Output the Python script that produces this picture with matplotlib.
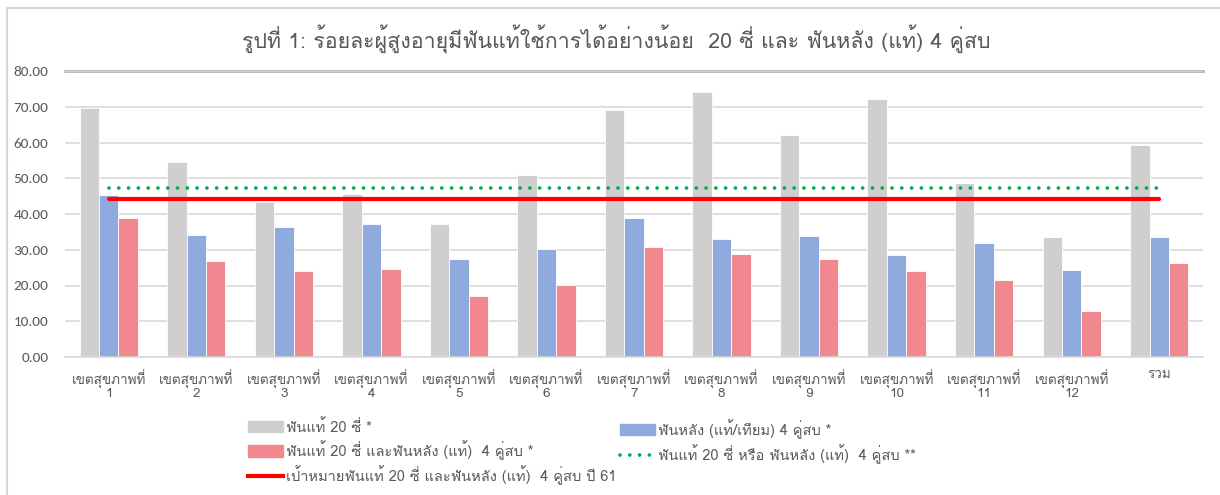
import numpy as np
import matplotlib
matplotlib.use("Agg")
import matplotlib.pyplot as plt
from matplotlib import font_manager
from matplotlib.lines import Line2D
from matplotlib.patches import Patch

# pick a Thai-capable family that is installed (Loma is close to Tahoma)
installed = set(f.name for f in font_manager.fontManager.ttflist)
thai = next((n for n in ['Loma', 'Noto Sans Thai Looped', 'Noto Sans Thai', 'Sarabun']
             if n in installed), 'DejaVu Sans')
latin = 'Carlito' if 'Carlito' in installed else 'Liberation Sans'
plt.rcParams['font.family'] = [thai, 'DejaVu Sans']

regions = ['เขตสุขภาพที่\n1', 'เขตสุขภาพที่\n2', 'เขตสุขภาพที่\n3', 'เขตสุขภาพที่\n4',
           'เขตสุขภาพที่\n5', 'เขตสุขภาพที่\n6', 'เขตสุขภาพที่\n7', 'เขตสุขภาพที่\n8',
           'เขตสุขภาพที่\n9', 'เขตสุขภาพที่\n10', 'เขตสุขภาพที่\n11', 'เขตสุขภาพที่\n12', 'รวม']
teeth20 = [69.7, 54.6, 43.4, 45.6, 37.1, 51.0, 69.2, 74.2, 62.2, 72.2, 48.8, 33.6, 59.3]
back4 = [45.3, 34.1, 36.4, 37.3, 27.5, 30.3, 38.9, 33.0, 33.8, 28.5, 31.8, 24.3, 33.6]
both = [38.8, 26.8, 24.1, 24.5, 17.0, 20.2, 30.8, 28.7, 27.5, 24.1, 21.4, 13.0, 26.2]
either = [47.4] * 13
target = [44.1] * 13

lbl_teeth20 = 'ฟันแท้ 20 ซี่ *'
lbl_back4 = 'ฟันหลัง (แท้/เทียม) 4 คู่สบ *'
lbl_both = 'ฟันแท้ 20 ซี่ และฟันหลัง (แท้)  4 คู่สบ *'
lbl_either = 'ฟันแท้ 20 ซี่ หรือ ฟันหลัง (แท้)  4 คู่สบ **'
lbl_target = 'เป้าหมายฟันแท้ 20 ซี่ และฟันหลัง (แท้)  4 คู่สบ ปี 61'
title = 'รูปที่ 1: ร้อยละผู้สูงอายุมีฟันแท้ใช้การได้อย่างน้อย  20 ซี่ และ ฟันหลัง (แท้) 4 คู่สบ'

c_gray, c_blue, c_pink = '#D0CECE', '#8FAADC', '#F1888F'
c_red, c_green = '#FF0000', '#00B050'
txt = '#595959'
dots = (0, (0.01, 2.6))

fig = plt.figure(figsize=(12.2, 4.95), dpi=100)
ax = fig.add_axes([65 / 1220, 1 - 357 / 495, 1138 / 1220, 286 / 495])

x = np.arange(len(regions))
w = 0.222
ax.bar(x - w, teeth20, w, color=c_gray, edgecolor='white', linewidth=0.6, zorder=2)
ax.bar(x, back4, w, color=c_blue, edgecolor='white', linewidth=0.6, zorder=2)
ax.bar(x + w, both, w, color=c_pink, edgecolor='white', linewidth=0.6, zorder=2)
ax.plot(x, either, color=c_green, linestyle=dots, linewidth=2.7,
        dash_capstyle='round', zorder=3)
ax.plot(x, target, color=c_red, linewidth=3.0, solid_capstyle='round', zorder=4)

ax.set_xlim(-0.5, len(regions) - 0.5)
ax.set_ylim(0, 80)
ax.set_yticks(np.arange(0, 81, 10))
ax.set_yticklabels(['%.2f' % v for v in np.arange(0, 81, 10)], family=[latin])
ax.set_xticks(x)
ax.set_xticklabels(regions, linespacing=0.95)
ax.tick_params(axis='y', length=0, pad=12, labelsize=11, labelcolor=txt)
ax.tick_params(axis='x', length=0, pad=9, labelsize=9.7, labelcolor=txt)
ax.grid(axis='y', color='#D9D9D9', linewidth=1.2, zorder=0)
for s in ['left', 'right', 'top']:
    ax.spines[s].set_visible(False)
ax.spines['bottom'].set_color('#D9D9D9')
ax.spines['bottom'].set_linewidth(1.2)
ax.axhline(80, color='#A6A6A6', linewidth=1.8, zorder=1, clip_on=False)

fig.text(616 / 1220, 1 - 39 / 495, title, ha='center', va='center', fontsize=15.4, color=txt)

h1 = [Patch(color=c_gray), Patch(color=c_pink), Line2D([], [], color=c_red, linewidth=3.0)]
h2 = [Patch(color=c_blue),
      Line2D([], [], color=c_green, linestyle=dots, linewidth=2.7, dash_capstyle='round')]
kw = dict(loc='upper left', frameon=False, fontsize=10.5, handlelength=2.4, handleheight=0.8,
          handletextpad=0.2, labelspacing=0.36, borderpad=0, borderaxespad=0, labelcolor=txt)
fig.legend(h1, [lbl_teeth20, lbl_both, lbl_target], bbox_to_anchor=(248 / 1220, 1 - 419 / 495), **kw)
fig.legend(h2, [lbl_back4, lbl_either], bbox_to_anchor=(620 / 1220, 1 - 419 / 495), **kw)

# outer frame of the screenshot
fig.add_artist(Line2D([7 / 1220, 7 / 1220], [0, 1 - 8 / 495], color='#D9D9D9', linewidth=1.5))
fig.add_artist(Line2D([7 / 1220, 1], [1 - 8 / 495, 1 - 8 / 495], color='#D9D9D9', linewidth=1.5))

fig.savefig('out.png', dpi=100)
